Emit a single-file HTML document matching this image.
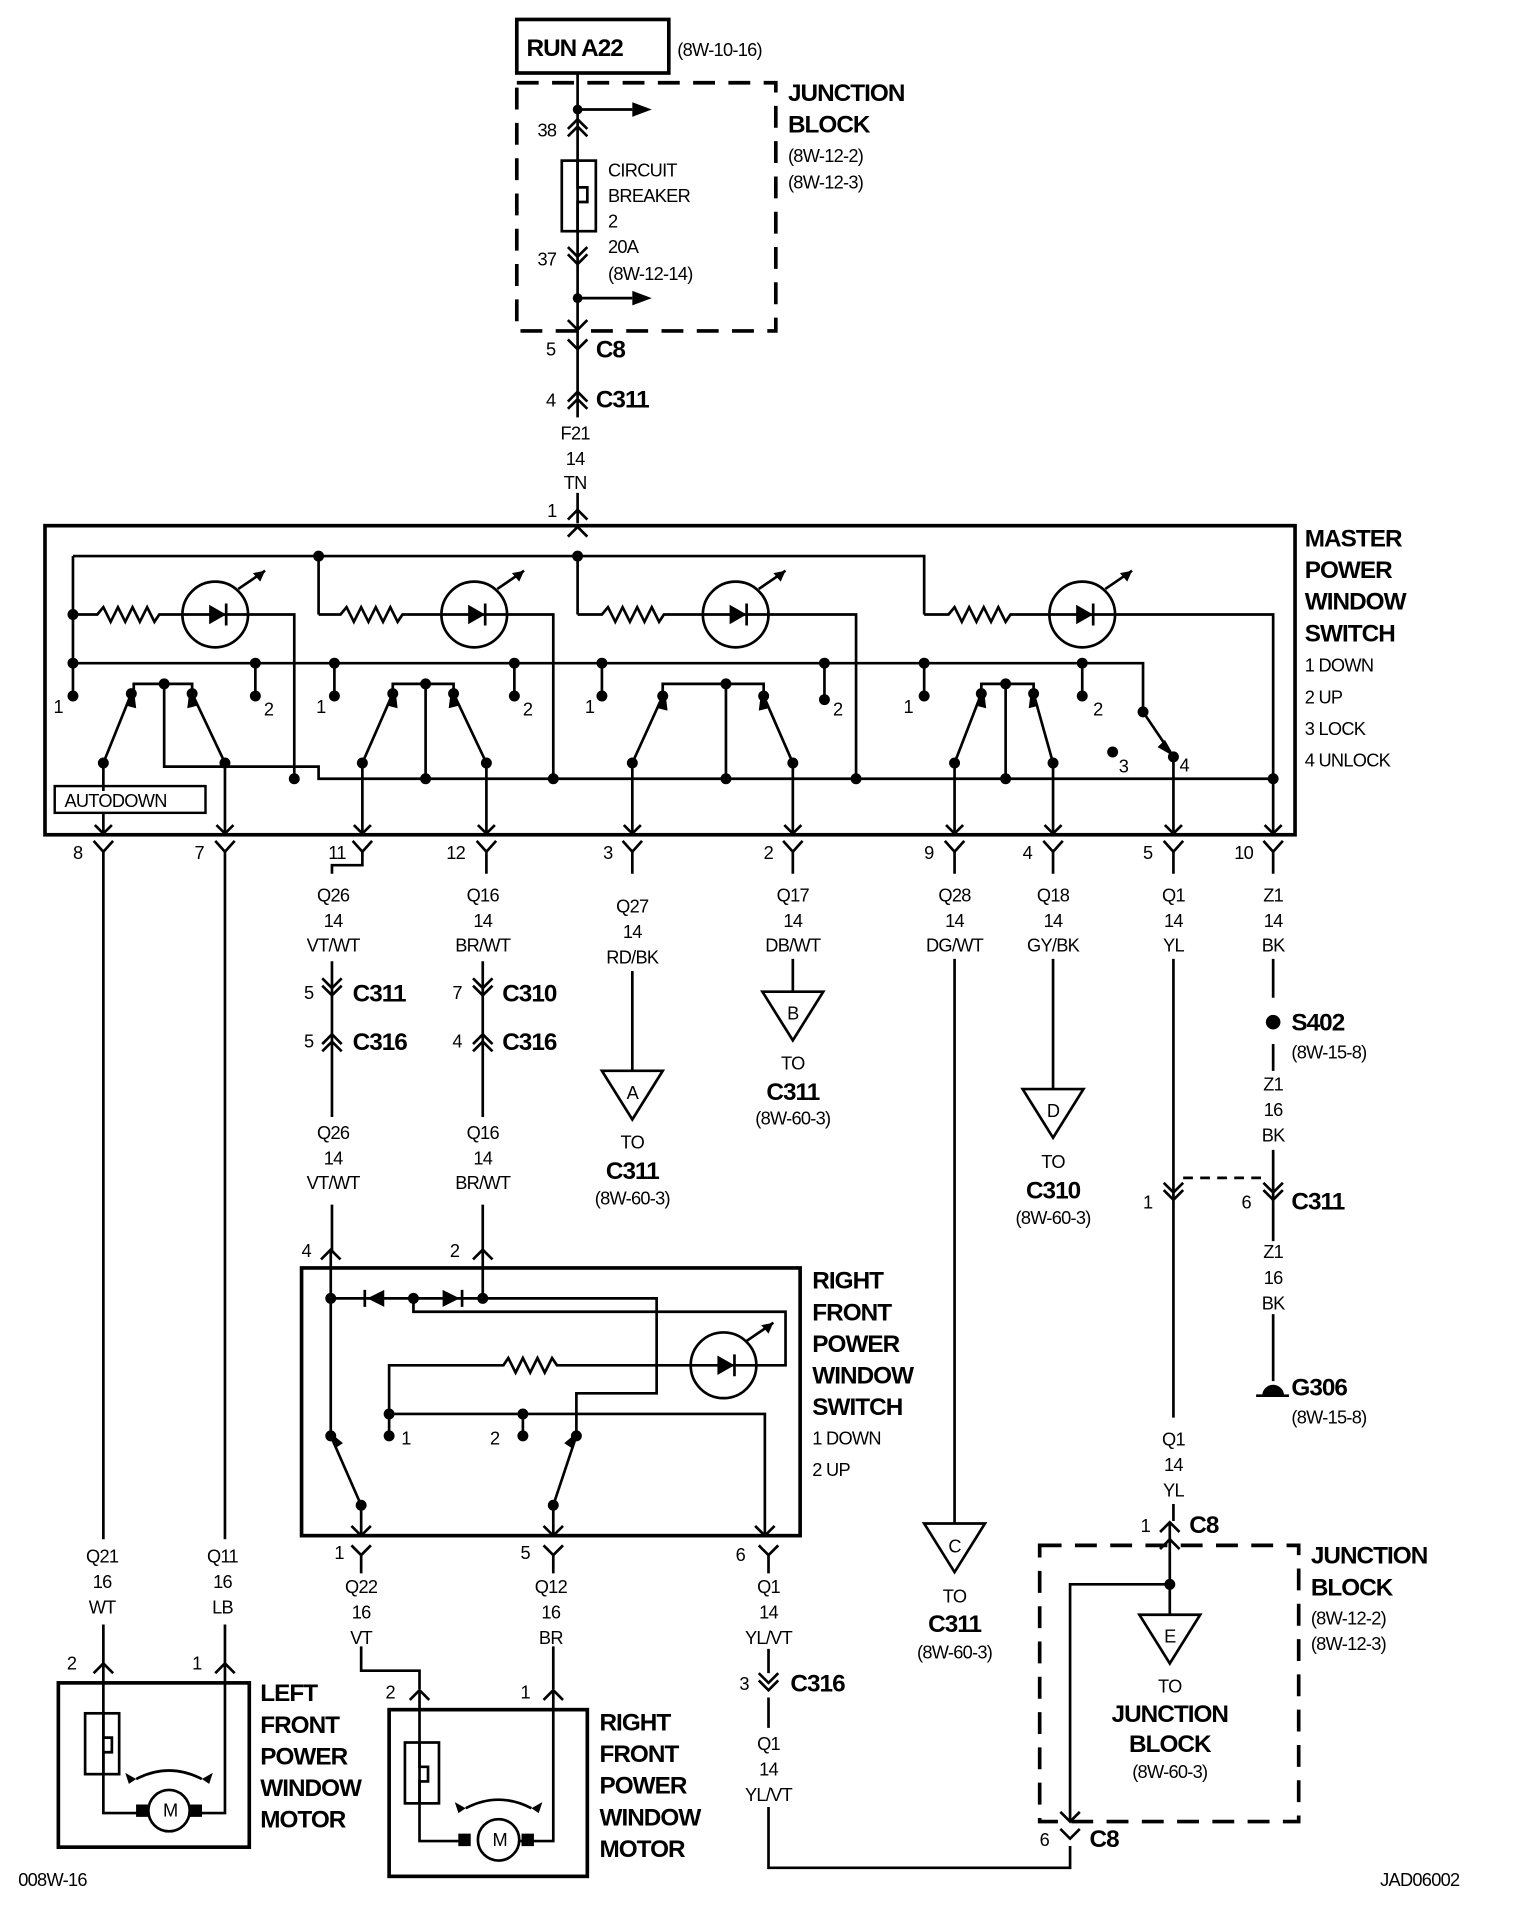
<!DOCTYPE html>
<html><head><meta charset="utf-8">
<style>
html,body{margin:0;padding:0;background:#fff;}
svg{display:block;}
text{font-family:"Liberation Sans",Arial,sans-serif;fill:#000;}
.t{font-size:15px;letter-spacing:-0.6px;}
.b{font-size:20px;font-weight:bold;letter-spacing:-0.8px;}
.c{text-anchor:middle;}
</style></head><body>
<svg width="1520" height="1908" viewBox="0 0 1250 1568" preserveAspectRatio="none" xmlns="http://www.w3.org/2000/svg">
<g fill="none" stroke="#000" stroke-width="2.2">
<rect x="425" y="16" width="125" height="44" stroke-width="3"/>
<rect x="425" y="68" width="213" height="204" stroke-width="3" stroke-dasharray="18,11"/>
<path d="M475 60 V343 M475 405 V430"/>
<path d="M475 90 H520"/><path d="M475 245 H520"/>
<path d="M467 106 L475 98 L483 106 M467 112 L475 104 L483 112"/>
<rect x="462" y="132" width="28" height="58"/>
<path d="M475 132 V154 H483 V166 H475 V190"/>
<path d="M467 203 L475 211 L483 203 M467 209 L475 217 L483 209"/>
<path d="M467 263 L475 271 L483 263"/>
<path d="M467 279 L475 287 L483 279"/>
<path d="M467 330 L475 322 L483 330 M467 336 L475 328 L483 336"/>
<path d="M467 427 L475 419 L483 427"/>
<rect x="37" y="432" width="1028" height="254" stroke-width="3"/>
<path d="M467 441 L475 433 L483 441"/>
<path d="M60 457 H760 V505 M60 457 V572 M262 457 V505 M475 457 V505"/>
<path d="M60 545 H940 V585"/>
<path d="M210 545 V572 M275 545 V572 M423 545 V572 M495 545 V572 M678 545 V575 M760 545 V572 M890 545 V572"/>
<path d="M60 505 H80 l5 -6 l6 12 l6 -12 l6 12 l6 -12 l6 12 l6 -12 l6 12 l4 -6 H150 M204 505 H242 V640"/>
<path d="M262 505 H280 l5 -6 l6 12 l6 -12 l6 12 l6 -12 l6 12 l6 -12 l6 12 l4 -6 H363 M417 505 H455 V640"/>
<path d="M475 505 H495 l5 -6 l6 12 l6 -12 l6 12 l6 -12 l6 12 l6 -12 l6 12 l4 -6 H578 M632 505 H704 V640"/>
<path d="M760 505 H780 l5 -6 l6 12 l6 -12 l6 12 l6 -12 l6 12 l6 -12 l6 12 l4 -6 H863 M917 505 H1047 V640"/>
<circle cx="177" cy="505" r="27"/><circle cx="390" cy="505" r="27"/><circle cx="605" cy="505" r="27"/><circle cx="890" cy="505" r="27"/>
<path d="M150 505 H204 M363 505 H417 M578 505 H632 M863 505 H917"/>
<path d="M186 496 V514 M399 496 V514 M614 496 V514 M899 496 V514"/>
<path d="M196 484 L218 469 M409 484 L431 469 M624 484 L646 469 M909 484 L931 469"/>
<path d="M110 570 V562 H158 V570 M135 562 V630 H262 V640 H1047"/>
<path d="M85 627 L108 570 M185 627 L158 570 M85 627 V650 M185 627 V686"/>
<path d="M323 570 V562 H373 V570 M350 562 V640 M298 627 L323 570 M400 627 L373 570 M298 627 V686 M400 627 V686"/>
<path d="M545 572 V562 H628 V572 M597 562 V640 M520 627 L545 572 M652 627 L628 572 M520 627 V686 M652 627 V686"/>
<path d="M807 570 V562 H850 V570 M827 562 V640 M785 627 L807 570 M866 627 L850 570 M785 627 V686 M866 627 V686"/>
<path d="M940 585 L965 622 V686 M1047 640 V686"/>
<rect x="45" y="646" width="124" height="22" stroke-width="2"/>
<path d="M85 668 V686"/>
<path d="M78 678 L85 685 L92 678 M178 678 L185 685 L192 678 M291 678 L298 685 L305 678 M393 678 L400 685 L407 678 M513 678 L520 685 L527 678 M645 678 L652 685 L659 678 M778 678 L785 685 L792 678 M859 678 L866 685 L873 678 M958 678 L965 685 L972 678 M1040 678 L1047 685 L1054 678"/>
<path d="M77 691 L85 700 L93 691 M177 691 L185 700 L193 691 M290 691 L298 700 L306 691 M392 691 L400 700 L408 691 M512 691 L520 700 L528 691 M644 691 L652 700 L660 691 M777 691 L785 700 L793 691 M858 691 L866 700 L874 691 M957 691 L965 700 L973 691 M1039 691 L1047 700 L1055 691"/>
<path d="M85 700 V1265 M185 700 V1265 M85 1335 V1367 M185 1335 V1367"/>
<path d="M298 700 V711 H273 V718 M273 790 V918 M273 990 V1030 M400 700 V718 M397 790 V918 M397 990 V1030"/>
<path d="M265 804 L273 812 L281 804 M265 810 L273 818 L281 810 M389 804 L397 812 L405 804 M389 810 L397 818 L405 810"/>
<path d="M265 858 L273 850 L281 858 M265 864 L273 856 L281 864 M389 858 L397 850 L405 858 M389 864 L397 856 L405 864"/>
<path d="M520 700 V718 M652 700 V718 M785 700 V718 M866 700 V718 M965 700 V718 M1047 700 V718"/>
<path d="M520 798 V880 M652 788 V815 M785 788 V1252 M866 788 V895"/>
<path d="M495 880 H545 L520 920 Z M627 815 H677 L652 855 Z M760 1252 H810 L785 1292 Z M841 895 H891 L866 935 Z"/>
<path d="M965 788 V1165 M965 1236 V1250"/>
<path d="M957 972 L965 980 L973 972 M957 978 L965 986 L973 978"/>
<path d="M1047 788 V820 M1047 858 V880 M1047 945 V1020 M1047 1080 V1135"/>
<path d="M1039 972 L1047 980 L1055 972 M1039 978 L1047 986 L1055 978" />
<path d="M973 968 H1039" stroke-dasharray="8,6"/>
<path d="M1033 1147 H1060"/>
<path d="M264 1035 L272 1027 L280 1035 M389 1035 L397 1027 L405 1035 M272 1027 V1042 M397 1027 V1042"/>
<rect x="248" y="1042" width="410" height="220" stroke-width="3"/>
<path d="M272 1042 V1180 M397 1042 V1067 M272 1067 H540 V1145 H474 V1180"/>
<path d="M340 1067 V1078 H646 V1122 H622"/>
<path d="M320 1162 V1122 H414 l4 -6 l6 12 l6 -12 l6 12 l6 -12 l6 12 l6 -12 l4 6 H568"/>
<circle cx="595" cy="1122" r="27"/>
<path d="M568 1122 H622 M604 1113 V1131 M614 1102 L636 1087"/>
<path d="M320 1162 H629 V1262 M320 1162 V1180 M430 1162 V1180"/>
<path d="M272 1180 L297 1237 V1262 M474 1180 L455 1237 V1262"/>
<path d="M289 1254 L297 1262 L305 1254 M447 1254 L455 1262 L463 1254 M621 1254 L629 1262 L637 1254"/>
<path d="M289 1270 L297 1278 L305 1270 M447 1270 L455 1278 L463 1270 M624 1270 L632 1278 L640 1270"/>
<path d="M297 1278 V1293 M297 1353 V1373 H345 V1388 M455 1278 V1293 M455 1353 V1388"/>
<path d="M632 1278 V1293 M632 1355 V1375 M632 1395 V1420 M632 1485 V1535 H880 V1517"/>
<path d="M624 1375 L632 1383 L640 1375 M624 1381 L632 1389 L640 1381"/>
<path d="M77 1375 L85 1367 L93 1375 M177 1375 L185 1367 L193 1375"/>
<rect x="48" y="1383" width="157" height="135" stroke-width="3"/>
<path d="M85 1367 V1490 H115 M163 1490 H185 V1367"/>
<rect x="70" y="1408" width="28" height="50"/>
<path d="M85 1408 V1428 H92 V1440 H85 V1458"/>
<circle cx="139" cy="1488" r="17"/>
<path d="M113 1484 h8 v8 h-8z M157 1484 h8 v8 h-8z" fill="#000"/>
<path d="M112 1462 Q139 1448 166 1462"/>
<path d="M337 1397 L345 1389 L353 1397 M447 1397 L455 1389 L463 1397"/>
<rect x="320" y="1405" width="163" height="137" stroke-width="3"/>
<path d="M345 1389 V1513 H380 M428 1513 H455 V1389"/>
<rect x="333" y="1432" width="28" height="50"/>
<path d="M345 1432 V1452 H352 V1464 H345 V1482"/>
<circle cx="410" cy="1512" r="17"/>
<path d="M378 1508 h8 v8 h-8z M430 1508 h8 v8 h-8z" fill="#000"/>
<path d="M383 1486 Q410 1472 437 1486"/>
<rect x="855" y="1270" width="213" height="227" stroke-width="3" stroke-dasharray="18,11"/>
<path d="M954 1259 L962 1251 L970 1259 M954 1273 L962 1265 L970 1273 M962 1251 V1327 M962 1302 H880 V1497"/>
<path d="M937 1327 H987 L962 1367 Z"/>
<path d="M872 1489 L880 1497 L888 1489 M872 1503 L880 1511 L888 1503"/>
</g>
<g fill="#000">
<path d="M520 84 L536 90 L520 96Z M520 239 L536 245 L520 251Z"/>
<circle cx="475" cy="90" r="4"/><circle cx="475" cy="245" r="4"/>
<circle cx="475" cy="457" r="4.5"/><circle cx="262" cy="457" r="4.5"/>
<circle cx="60" cy="505" r="4.5"/><circle cx="60" cy="545" r="4.5"/>
<circle cx="60" cy="572" r="4.5"/><circle cx="210" cy="545" r="4.5"/><circle cx="210" cy="572" r="4.5"/>
<circle cx="275" cy="545" r="4.5"/><circle cx="275" cy="572" r="4.5"/><circle cx="423" cy="545" r="4.5"/><circle cx="423" cy="572" r="4.5"/>
<circle cx="495" cy="545" r="4.5"/><circle cx="495" cy="572" r="4.5"/><circle cx="678" cy="545" r="4.5"/><circle cx="678" cy="575" r="4.5"/>
<circle cx="760" cy="545" r="4.5"/><circle cx="760" cy="572" r="4.5"/><circle cx="890" cy="545" r="4.5"/><circle cx="890" cy="572" r="4.5"/>
<circle cx="108" cy="570" r="4.5"/><circle cx="135" cy="562" r="4.5"/><circle cx="158" cy="570" r="4.5"/>
<circle cx="85" cy="627" r="4.5"/><circle cx="185" cy="627" r="4.5"/>
<circle cx="323" cy="570" r="4.5"/><circle cx="350" cy="562" r="4.5"/><circle cx="373" cy="570" r="4.5"/>
<circle cx="298" cy="627" r="4.5"/><circle cx="400" cy="627" r="4.5"/>
<circle cx="545" cy="572" r="4.5"/><circle cx="597" cy="562" r="4.5"/><circle cx="628" cy="572" r="4.5"/>
<circle cx="520" cy="627" r="4.5"/><circle cx="652" cy="627" r="4.5"/>
<circle cx="807" cy="570" r="4.5"/><circle cx="827" cy="562" r="4.5"/><circle cx="850" cy="570" r="4.5"/>
<circle cx="785" cy="627" r="4.5"/><circle cx="866" cy="627" r="4.5"/>
<circle cx="940" cy="585" r="4.5"/><circle cx="965" cy="622" r="4.5"/><circle cx="915" cy="618" r="4.5"/>
<circle cx="242" cy="640" r="4.5"/><circle cx="350" cy="640" r="4.5"/><circle cx="455" cy="640" r="4.5"/>
<circle cx="597" cy="640" r="4.5"/><circle cx="704" cy="640" r="4.5"/><circle cx="827" cy="640" r="4.5"/><circle cx="1047" cy="640" r="4.5"/>
<path d="M172 497 L186 505 L172 513Z M385 497 L399 505 L385 513Z M600 497 L614 505 L600 513Z M885 497 L899 505 L885 513Z"/>
<path d="M218 469 L208 471 L214 478Z M431 469 L421 471 L427 478Z M646 469 L636 471 L642 478Z M931 469 L921 471 L927 478Z"/>
<path d="M104 580 L110 566 L112 582Z M162 580 L156 566 L154 582Z M319 580 L325 566 L327 582Z M377 580 L371 566 L369 582Z M541 582 L547 568 L549 584Z M632 582 L626 568 L624 584Z M803 580 L809 566 L811 582Z M854 580 L848 566 L846 582Z M958 608 L966 622 L952 614Z"/>
<circle cx="1047" cy="840" r="6"/>
<path d="M1038 1147 A9 9 0 0 1 1056 1147Z"/>
<circle cx="272" cy="1067" r="4.5"/><circle cx="340" cy="1067" r="4.5"/><circle cx="397" cy="1067" r="4.5"/>
<path d="M302 1067 L316 1060 L316 1074Z M378 1067 L364 1060 L364 1074Z"/>
<path d="M300 1060 V1074 M380 1060 V1074" stroke="#000" stroke-width="2.2"/>
<path d="M590 1114 L604 1122 L590 1130Z M636 1087 L626 1089 L632 1096Z"/>
<circle cx="320" cy="1162" r="4.5"/><circle cx="430" cy="1162" r="4.5"/>
<circle cx="320" cy="1180" r="4.5"/><circle cx="430" cy="1180" r="4.5"/>
<circle cx="272" cy="1180" r="4.5"/><circle cx="474" cy="1180" r="4.5"/>
<circle cx="297" cy="1237" r="4.5"/><circle cx="455" cy="1237" r="4.5"/>
<path d="M276 1190 L270 1176 L282 1186Z M470 1190 L476 1176 L464 1186Z"/>
<path d="M112 1462 L103 1457 L106 1466Z M166 1462 L175 1457 L172 1466Z M383 1486 L374 1481 L377 1490Z M437 1486 L446 1481 L443 1490Z"/>
<circle cx="962" cy="1302" r="4.5"/>
</g>
<text x="433" y="46" class="b">RUN A22</text>
<text x="557" y="46" class="t">(8W-10-16)</text>
<text x="648" y="83" class="b">JUNCTION</text><text x="648" y="109" class="b">BLOCK</text>
<text x="648" y="133" class="t">(8W-12-2)</text><text x="648" y="155" class="t">(8W-12-3)</text>
<text x="442" y="112" class="t">38</text><text x="442" y="218" class="t">37</text>
<text x="500" y="145" class="t">CIRCUIT</text><text x="500" y="166" class="t">BREAKER</text>
<text x="500" y="187" class="t">2</text><text x="500" y="208" class="t">20A</text><text x="500" y="230" class="t">(8W-12-14)</text>
<text x="449" y="292" class="t">5</text><text x="490" y="294" class="b">C8</text>
<text x="449" y="334" class="t">4</text><text x="490" y="335" class="b">C311</text>
<text x="473" y="361" class="t c">F21</text><text x="473" y="382" class="t c">14</text><text x="473" y="402" class="t c">TN</text>
<text x="450" y="425" class="t">1</text>
<text x="1073" y="449" class="b">MASTER</text><text x="1073" y="475" class="b">POWER</text>
<text x="1073" y="501" class="b">WINDOW</text><text x="1073" y="527" class="b">SWITCH</text>
<text x="1073" y="552" class="t">1 DOWN</text><text x="1073" y="578" class="t">2 UP</text>
<text x="1073" y="604" class="t">3 LOCK</text><text x="1073" y="630" class="t">4 UNLOCK</text>
<text x="44" y="586" class="t">1</text><text x="217" y="588" class="t">2</text>
<text x="260" y="586" class="t">1</text><text x="430" y="588" class="t">2</text>
<text x="481" y="586" class="t">1</text><text x="685" y="588" class="t">2</text>
<text x="743" y="586" class="t">1</text><text x="899" y="588" class="t">2</text>
<text x="920" y="635" class="t">3</text><text x="970" y="634" class="t">4</text>
<text x="53" y="663" class="t">AUTODOWN</text>
<text x="60" y="706" class="t">8</text><text x="160" y="706" class="t">7</text><text x="270" y="706" class="t">11</text>
<text x="367" y="706" class="t">12</text><text x="496" y="706" class="t">3</text><text x="628" y="706" class="t">2</text>
<text x="760" y="706" class="t">9</text><text x="841" y="706" class="t">4</text><text x="940" y="706" class="t">5</text><text x="1015" y="706" class="t">10</text>
<text x="274" y="741" class="t c">Q26</text><text x="274" y="762" class="t c">14</text><text x="274" y="782" class="t c">VT/WT</text>
<text x="397" y="741" class="t c">Q16</text><text x="397" y="762" class="t c">14</text><text x="397" y="782" class="t c">BR/WT</text>
<text x="520" y="750" class="t c">Q27</text><text x="520" y="771" class="t c">14</text><text x="520" y="792" class="t c">RD/BK</text>
<text x="652" y="741" class="t c">Q17</text><text x="652" y="762" class="t c">14</text><text x="652" y="782" class="t c">DB/WT</text>
<text x="785" y="741" class="t c">Q28</text><text x="785" y="762" class="t c">14</text><text x="785" y="782" class="t c">DG/WT</text>
<text x="866" y="741" class="t c">Q18</text><text x="866" y="762" class="t c">14</text><text x="866" y="782" class="t c">GY/BK</text>
<text x="965" y="741" class="t c">Q1</text><text x="965" y="762" class="t c">14</text><text x="965" y="782" class="t c">YL</text>
<text x="1047" y="741" class="t c">Z1</text><text x="1047" y="762" class="t c">14</text><text x="1047" y="782" class="t c">BK</text>
<text x="250" y="821" class="t">5</text><text x="290" y="823" class="b">C311</text>
<text x="372" y="821" class="t">7</text><text x="413" y="823" class="b">C310</text>
<text x="250" y="861" class="t">5</text><text x="290" y="863" class="b">C316</text>
<text x="372" y="861" class="t">4</text><text x="413" y="863" class="b">C316</text>
<text x="274" y="936" class="t c">Q26</text><text x="274" y="957" class="t c">14</text><text x="274" y="977" class="t c">VT/WT</text>
<text x="397" y="936" class="t c">Q16</text><text x="397" y="957" class="t c">14</text><text x="397" y="977" class="t c">BR/WT</text>
<text x="248" y="1033" class="t">4</text><text x="370" y="1033" class="t">2</text>
<text x="520" y="903" class="t c">A</text><text x="520" y="944" class="t c">TO</text>
<text x="520" y="969" class="b c">C311</text><text x="520" y="990" class="t c">(8W-60-3)</text>
<text x="652" y="838" class="t c">B</text><text x="652" y="879" class="t c">TO</text>
<text x="652" y="904" class="b c">C311</text><text x="652" y="924" class="t c">(8W-60-3)</text>
<text x="866" y="918" class="t c">D</text><text x="866" y="960" class="t c">TO</text>
<text x="866" y="985" class="b c">C310</text><text x="866" y="1006" class="t c">(8W-60-3)</text>
<text x="785" y="1276" class="t c">C</text><text x="785" y="1317" class="t c">TO</text>
<text x="785" y="1341" class="b c">C311</text><text x="785" y="1363" class="t c">(8W-60-3)</text>
<text x="1062" y="847" class="b">S402</text><text x="1062" y="870" class="t">(8W-15-8)</text>
<text x="1047" y="896" class="t c">Z1</text><text x="1047" y="917" class="t c">16</text><text x="1047" y="938" class="t c">BK</text>
<text x="940" y="993" class="t">1</text><text x="1021" y="993" class="t">6</text><text x="1062" y="994" class="b">C311</text>
<text x="1047" y="1034" class="t c">Z1</text><text x="1047" y="1055" class="t c">16</text><text x="1047" y="1076" class="t c">BK</text>
<text x="1062" y="1147" class="b">G306</text><text x="1062" y="1170" class="t">(8W-15-8)</text>
<text x="965" y="1188" class="t c">Q1</text><text x="965" y="1209" class="t c">14</text><text x="965" y="1230" class="t c">YL</text>
<text x="938" y="1259" class="t">1</text><text x="978" y="1260" class="b">C8</text>
<text x="668" y="1059" class="b">RIGHT</text><text x="668" y="1085" class="b">FRONT</text><text x="668" y="1111" class="b">POWER</text>
<text x="668" y="1137" class="b">WINDOW</text><text x="668" y="1163" class="b">SWITCH</text>
<text x="668" y="1187" class="t">1 DOWN</text><text x="668" y="1213" class="t">2 UP</text>
<text x="330" y="1187" class="t">1</text><text x="403" y="1187" class="t">2</text>
<text x="275" y="1281" class="t">1</text><text x="428" y="1281" class="t">5</text><text x="605" y="1283" class="t">6</text>
<text x="84" y="1284" class="t c">Q21</text><text x="84" y="1305" class="t c">16</text><text x="84" y="1326" class="t c">WT</text>
<text x="183" y="1284" class="t c">Q11</text><text x="183" y="1305" class="t c">16</text><text x="183" y="1326" class="t c">LB</text>
<text x="297" y="1309" class="t c">Q22</text><text x="297" y="1330" class="t c">16</text><text x="297" y="1351" class="t c">VT</text>
<text x="453" y="1309" class="t c">Q12</text><text x="453" y="1330" class="t c">16</text><text x="453" y="1351" class="t c">BR</text>
<text x="632" y="1309" class="t c">Q1</text><text x="632" y="1330" class="t c">14</text><text x="632" y="1351" class="t c">YL/VT</text>
<text x="608" y="1389" class="t">3</text><text x="650" y="1390" class="b">C316</text>
<text x="632" y="1438" class="t c">Q1</text><text x="632" y="1459" class="t c">14</text><text x="632" y="1480" class="t c">YL/VT</text>
<text x="55" y="1372" class="t">2</text><text x="158" y="1372" class="t">1</text>
<text x="317" y="1396" class="t">2</text><text x="428" y="1396" class="t">1</text>
<text x="214" y="1398" class="b">LEFT</text><text x="214" y="1424" class="b">FRONT</text><text x="214" y="1450" class="b">POWER</text>
<text x="214" y="1476" class="b">WINDOW</text><text x="214" y="1502" class="b">MOTOR</text>
<text x="493" y="1422" class="b">RIGHT</text><text x="493" y="1448" class="b">FRONT</text><text x="493" y="1474" class="b">POWER</text>
<text x="493" y="1500" class="b">WINDOW</text><text x="493" y="1526" class="b">MOTOR</text>
<text x="134" y="1493" class="t">M</text><text x="405" y="1517" class="t">M</text>
<text x="1078" y="1285" class="b">JUNCTION</text><text x="1078" y="1311" class="b">BLOCK</text>
<text x="1078" y="1335" class="t">(8W-12-2)</text><text x="1078" y="1356" class="t">(8W-12-3)</text>
<text x="962" y="1350" class="t c">E</text><text x="962" y="1391" class="t c">TO</text>
<text x="962" y="1415" class="b c">JUNCTION</text><text x="962" y="1440" class="b c">BLOCK</text><text x="962" y="1461" class="t c">(8W-60-3)</text>
<text x="855" y="1517" class="t">6</text><text x="896" y="1518" class="b">C8</text>
<text x="15" y="1550" class="t">008W-16</text>
<text x="1135" y="1550" class="t">JAD06002</text>
</svg>
</body></html>
